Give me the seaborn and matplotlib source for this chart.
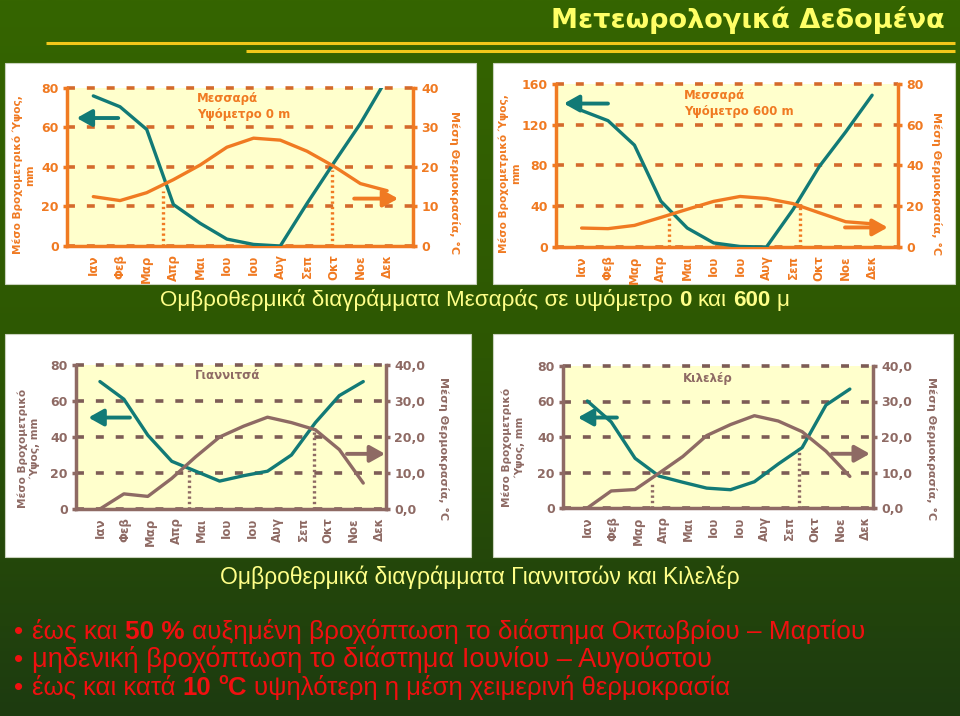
import numpy as np
import pandas as pd
import matplotlib
matplotlib.use("Agg")
import matplotlib.pyplot as plt
import seaborn as sns
from matplotlib.colors import LinearSegmentedColormap
from matplotlib.patches import Rectangle

# ---------------- data ----------------
months = ["Ιαν", "Φεβ", "Μαρ", "Απρ", "Μαι", "Ιου", "Ιου", "Αυγ", "Σεπ", "Οκτ", "Νοε", "Δεκ"]

mes0_rain = [76, 70.5, 59, 21, 11.5, 3.5, 0.8, 0, 21.5, 42, 62, 85]
mes0_temp = [12.5, 11.5, 13.5, 16.8, 20.5, 25, 27.3, 26.8, 24, 20.2, 15.8, 14]
mes0_dry_x = [2.62, 8.93]
mes0_dry_top = [28, 38.6]

mes600_rain = [134, 124, 100, 45, 18.6, 4, 0.5, 0, 36.6, 79, 113, 149]
mes600_temp = [9.3, 9, 10.6, 14.5, 18.5, 22.4, 24.8, 23.8, 21.3, 16.8, 12.4, 11.4]
mes600_dry_x = [3.29, 8.26]
mes600_dry_top = [32, 40]

gian_rain = [70.8, 61, 41, 26.5, 21, 15.5, 18.5, 21, 30, 48, 63, 70.8]
gian_temp = [0, 4.2, 3.5, 8.5, 14.5, 20, 23, 25.5, 24, 22, 16.5, 7.2]
gian_dry_x = [3.7, 8.94]
gian_dry_top = [21.8, 45]

kil_rain = [60.3, 48.5, 28, 18, 14.5, 11.2, 10.3, 14.8, 24.8, 34, 58, 67]
kil_temp = [0, 4.8, 5.2, 9.8, 14.5, 20.4, 23.5, 26, 24.5, 21.5, 16, 8.9]
kil_dry_x = [2.7, 8.87]
kil_dry_top = [14, 33.7]

rain_ticks_80 = [0, 20, 40, 60, 80]
rain_ticks_160 = [0, 40, 80, 120, 160]
temp_ticks_40 = [0, 10, 20, 30, 40]
temp_ticks_80 = [0, 20, 40, 60, 80]

title = "Μετεωρολογικά Δεδομένα"
caption_top = [("Ομβροθερμικά διαγράμματα Μεσαράς σε υψόμετρο", "normal", False, True),
               ("0", "bold", False, True), ("και", "normal", False, True),
               ("600", "bold", False, True), ("μ", "normal", False, True)]
caption_bottom = [("Ομβροθερμικά διαγράμματα Γιαννιτσών και Κιλελέρ", "normal", False, True)]
bullet_lines = [
    [("έως και", "normal", False, True), ("50 %", "bold", False, True),
     ("αυξημένη βροχόπτωση το διάστημα Οκτωβρίου – Μαρτίου", "normal", False, True)],
    [("μηδενική βροχόπτωση το διάστημα Ιουνίου – Αυγούστου", "normal", False, True)],
    [("έως και κατά", "normal", False, True), ("10", "bold", False, True),
     ("o", "bold", True, True), ("C", "bold", False, False),
     ("υψηλότερη η μέση χειμερινή θερμοκρασία", "normal", False, True)],
]

# ---------------- style ----------------
W, H = 960, 716
sns.set_style("white")
plt.rcParams["font.family"] = ["DejaVu Sans"]

TEAL = "#127A76"
ORANGE = "#F07A22"
ORANGE_GRID = "#D46A2C"
BROWN = "#8E6A64"
BROWN_GRID = "#7D5C56"
FACE = "#FFFFCC"
NARROW = ["Liberation Sans Narrow", "Liberation Sans", "DejaVu Sans"]

fig = plt.figure(figsize=(9.6, 7.16), dpi=100)

bg = fig.add_axes([0, 0, 1, 1], zorder=-10)
grad = np.linspace(0, 1, 256).reshape(-1, 1)
cmap = LinearSegmentedColormap.from_list("g", ["#356500", "#2d5703", "#1d3b10"])
bg.imshow(grad, aspect="auto", cmap=cmap, extent=[0, 1, 0, 1], origin="upper")
bg.set_xlim(0, 1)
bg.set_ylim(0, 1)
bg.axis("off")

# yellow header lines
bg.plot([46 / W, 955 / W], [1 - 43 / H] * 2, color="#F2C81A", lw=2.2, solid_capstyle="butt")
bg.plot([246 / W, 955 / W], [1 - 50.5 / H] * 2, color="#F2C81A", lw=2.2, solid_capstyle="butt")
bg.text(945 / W, 1 - 20 / H, title, ha="right", va="center", color="#FFFF66",
        fontsize=19.5, fontweight="bold")

# white panels
for (x0, y0, x1, y1) in [(5, 63, 476, 284), (493, 63, 955, 284), (5, 334, 471, 557), (493, 334, 953, 557)]:
    bg.add_patch(Rectangle((x0 / W, 1 - y1 / H), (x1 - x0) / W, (y1 - y0) / H,
                           facecolor="white", edgecolor="#c9d2bd", lw=0.8))


def chart(rect_px, rain, temp, rmax, rticks, tmax, tticks, tfmt, col, gcol, tcol,
          xlim, tick_scale, dry_x, dry_top, ttl, ttl_xy, ttl_ha, ylab, ylab_xy,
          rlab_xy, arrow_l, arrow_r):
    x0, y0, x1, y1 = rect_px
    ax = fig.add_axes([x0 / W, 1 - y1 / H, (x1 - x0) / W, (y1 - y0) / H])
    ax.set_facecolor(FACE)
    df = pd.DataFrame({"m": np.arange(12), "rain": rain, "temp": temp})
    sns.lineplot(data=df, x="m", y="rain", ax=ax, color=TEAL, lw=2.4, zorder=4)
    ax2 = ax.twinx()
    sns.lineplot(data=df, x="m", y="temp", ax=ax2, color=tcol, lw=2.4, zorder=4)
    ax.set_ylim(0, rmax)
    ax2.set_ylim(0, tmax)
    ax.set_xlim(*xlim)
    ax.set_yticks(rticks)
    ax2.set_yticks(tticks)
    ax2.set_yticklabels([tfmt(v) for v in tticks])
    ax.set_xticks(np.arange(12) * tick_scale)
    ax.set_xticklabels(months, rotation=90)
    ax.set_xlabel("")
    ax.set_ylabel("")
    ax2.set_ylabel("")
    ax.grid(axis="y", color=gcol, lw=2.6, linestyle=(0, (2.2, 3.3)))
    ax.grid(axis="x", visible=False)
    for gl in ax.get_ygridlines():
        gl.set_clip_on(False)
    for s in ["top", "right"]:
        ax.spines[s].set_visible(False)
    for s in ["left", "bottom"]:
        ax.spines[s].set_color(col)
        ax.spines[s].set_linewidth(2.5)
    for s in ["top", "left", "bottom"]:
        ax2.spines[s].set_visible(False)
    ax2.spines["right"].set_color(col)
    ax2.spines["right"].set_linewidth(2.5)
    ax.tick_params(axis="y", direction="out", length=3, width=2.5, color=col,
                   labelcolor=col, labelsize=9, pad=3, left=True)
    ax2.tick_params(axis="y", direction="out", length=3, width=2.5, color=col,
                    labelcolor=col, labelsize=9, pad=3, right=True)
    ax.tick_params(axis="x", length=0, labelcolor=col, labelsize=8.5, pad=6)
    for lbl in ax.get_yticklabels() + ax2.get_yticklabels() + ax.get_xticklabels():
        lbl.set_fontweight("bold")
    ax.vlines(dry_x, 0, dry_top, colors=col, lw=2.4, linestyles=(0, (0.7, 0.9)), zorder=3)
    ax2.text(ttl_xy[0], ttl_xy[1], ttl, transform=ax.transAxes, ha=ttl_ha, va="top",
             color=col, fontsize=8.5, fontweight="bold", linespacing=1.35)
    ax.text(ylab_xy[0], ylab_xy[1], ylab, transform=ax.transAxes, rotation=90,
            ha="center", va="center", multialignment="center", color=col,
            fontsize=7.6, fontweight="bold", linespacing=1.3)
    ax.text(rlab_xy[0], rlab_xy[1], "Μέση Θερμοκρασία, °C", transform=ax.transAxes,
            rotation=-90, ha="center", va="center", color=col, fontsize=8,
            fontweight="bold", clip_on=False)
    ax2.annotate("", xy=arrow_l[0], xytext=arrow_l[1], xycoords="axes fraction",
                 arrowprops=dict(arrowstyle="-|>,head_length=0.75,head_width=0.42",
                                 color=TEAL, lw=2.8, mutation_scale=12, shrinkA=0, shrinkB=0))
    ax2.annotate("", xy=arrow_r[0], xytext=arrow_r[1], xycoords="axes fraction",
                 arrowprops=dict(arrowstyle="-|>,head_length=0.75,head_width=0.42",
                                 color=tcol, lw=2.8, mutation_scale=12, shrinkA=0, shrinkB=0))
    return ax, ax2


int_fmt = lambda v: f"{v:d}"
dec_fmt = lambda v: f"{v:.1f}".replace(".", ",")

chart((67, 88, 413, 246), mes0_rain, mes0_temp, 80, rain_ticks_80, 40, temp_ticks_40, int_fmt,
      ORANGE, ORANGE_GRID, ORANGE, (-0.985, 11.97), 1.0, mes0_dry_x, mes0_dry_top,
      "Μεσσαρά\nΥψόμετρο 0 m", (0.376, 0.975), "left",
      "Μέσο Βροχομετρικό Ύψος,\nmm", (-0.124, 0.45), (1.121, 0.40),
      ((0.028, 0.81), (0.148, 0.81)), ((0.957, 0.30), (0.83, 0.30)))

chart((556, 84, 898, 247), mes600_rain, mes600_temp, 160, rain_ticks_160, 80, temp_ticks_80, int_fmt,
      ORANGE, ORANGE_GRID, ORANGE, (-0.97, 11.98), 1.0, mes600_dry_x, mes600_dry_top,
      "Μεσσαρά\nΥψόμετρο 600 m", (0.374, 0.97), "left",
      "Μέσο Βροχομετρικό Ύψος,\nmm", (-0.135, 0.45), (1.114, 0.39),
      ((0.023, 0.88), (0.152, 0.88)), ((0.97, 0.12), (0.845, 0.12)))

chart((76, 365, 386, 509), gian_rain, gian_temp, 80, rain_ticks_80, 40, temp_ticks_40, dec_fmt,
      BROWN, BROWN_GRID, BROWN, (-1.0, 11.95), 1.06, gian_dry_x, gian_dry_top,
      "Γιαννιτσά", (0.49, 0.97), "center",
      "Μέσο Βροχομετρικό\nΎψος, mm", (-0.152, 0.42), (1.184, 0.42),
      ((0.04, 0.635), (0.174, 0.635)), ((0.997, 0.383), (0.874, 0.383)))

chart((563, 366, 873, 508), kil_rain, kil_temp, 80, rain_ticks_80, 40, temp_ticks_40, dec_fmt,
      BROWN, BROWN_GRID, BROWN, (-1.02, 11.97), 1.06, kil_dry_x, kil_dry_top,
      "Κιλελέρ", (0.468, 0.96), "center",
      "Μέσο Βροχομετρικό\nΎψος, mm", (-0.161, 0.43), (1.19, 0.42),
      ((0.048, 0.637), (0.174, 0.637)), ((0.99, 0.382), (0.868, 0.382)))

# ---------------- rich text ----------------
fig.canvas.draw()
renderer = fig.canvas.get_renderer()


def rich(segs, x_px, y_base, size, color, target_w, align="left"):
    def place(sz, x_start):
        arts = []
        x = x_start
        probe = fig.text(0, 0, "a a", fontsize=sz, family=NARROW)
        probe2 = fig.text(0, 0, "aa", fontsize=sz, family=NARROW)
        sp = probe.get_window_extent(renderer).width - probe2.get_window_extent(renderer).width
        probe.remove()
        probe2.remove()
        for i, (s, wt, sup, space) in enumerate(segs):
            if i > 0 and space:
                x += sp
            fs = sz * 0.62 if sup else sz
            yy = y_base - (sz * 0.42 * 100 / 72 if sup else 0)
            t = fig.text(x / W, 1 - yy / H, s, fontsize=fs, fontweight=wt, color=color,
                         family=NARROW, ha="left", va="baseline")
            x += t.get_window_extent(renderer).width
            arts.append(t)
        return arts, x - x_start
    arts, w = place(size, x_px)
    for a in arts:
        a.remove()
    sz = size * target_w / w
    if align == "center":
        arts, w = place(sz, 0)
        for a in arts:
            a.remove()
        arts, w = place(sz, x_px - w / 2)
    else:
        arts, w = place(sz, x_px)
    return sz


rich(caption_top, 475, 306, 14, "#FFFF88", 630, align="center")
rich(caption_bottom, 480, 584, 14, "#FFFF88", 524, align="center")
bsize = rich(bullet_lines[0], 32, 639, 16, "#F01010", 833)
for i, segs in enumerate(bullet_lines):
    yb = 639 + 28 * i
    if i > 0:
        rich(segs, 32, yb, bsize, "#F01010", [681, 698][i - 1])
    fig.text(14 / W, 1 - yb / H, "•", fontsize=bsize, color="#F01010", family=NARROW,
             ha="left", va="baseline")

fig.savefig("out.png", dpi=100)
